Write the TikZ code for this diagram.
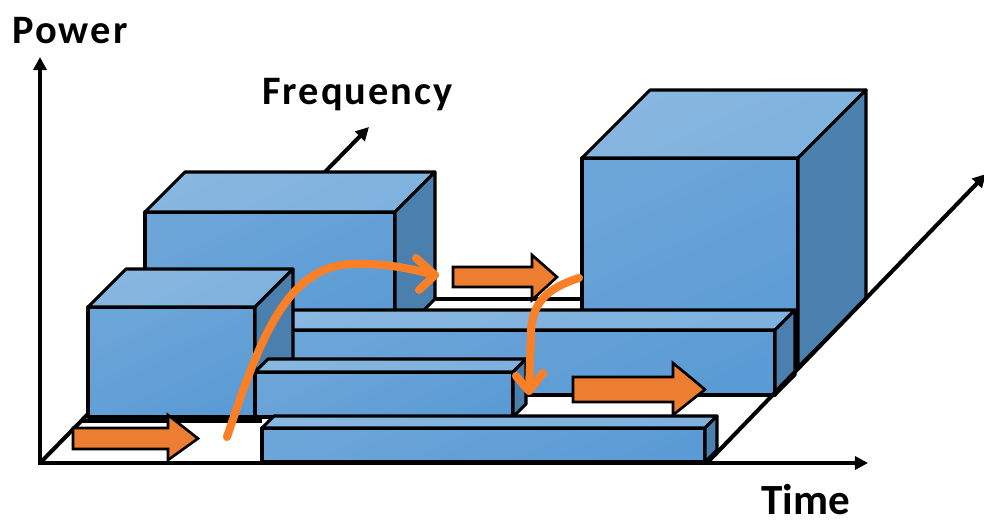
\documentclass[tikz,border=0pt]{standalone}
\usepackage{fontspec}
\setmainfont{Carlito}
\newfontfamily\axislabelfont[LetterSpace=5]{Carlito}
\usetikzlibrary{arrows.meta}

\definecolor{boxfront}{HTML}{5B9BD5}
\definecolor{boxfrontlight}{HTML}{6CA5D8}
\definecolor{boxtop}{HTML}{7EB1DE}
\definecolor{boxtoplight}{HTML}{88B7E0}
\definecolor{boxside}{HTML}{4B7FAE}
\definecolor{blockorange}{HTML}{ED7D31}
\definecolor{pathorange}{RGB}{250,128,40}

% cuboid in oblique view: x-left, x-right, y-top, y-bottom of the front face, depth
\newcommand\cuboid[5]{%
  \filldraw[facefront] (#1,#3) rectangle (#2,#4);
  \filldraw[facetop] (#1,#3) -- ({#1+#5},{#3-#5}) -- ({#2+#5},{#3-#5}) -- (#2,#3) -- cycle;
  \filldraw[faceside] (#2,#3) -- ({#2+#5},{#3-#5}) -- ({#2+#5},{#4-#5}) -- (#2,#4) -- cycle;}

% block arrow: body left, body top, body bottom, head base x, head top, head bottom, tip x
\newcommand\blockarrow[7]{%
  \filldraw[blockarr] (#1,#2) -- (#4,#2) -- (#4,#5) -- (#7,{(#2+#3)/2}) -- (#4,#6) -- (#4,#3) -- (#1,#3) -- cycle;}

\begin{document}
\begin{tikzpicture}[x=0.02cm, y=-0.02cm,
  outline/.style={draw=black, line width=1.8pt, line join=round},
  facefront/.style={outline, top color=boxfrontlight, bottom color=boxfront, shading angle=25},
  facetop/.style={outline, top color=boxtoplight, bottom color=boxtop, shading angle=25},
  faceside/.style={outline, fill=boxside},
  blockarr/.style={draw=black, line width=1.5pt, line join=miter, fill=blockorange},
  axis/.style={draw=black, line width=2.3pt, -{Triangle[length=7.5pt,width=7.5pt]}},
  flow/.style={draw=pathorange, line width=4.6pt, line cap=round, line join=round},
  lbl/.style={inner sep=0pt, anchor=base west}]

\useasboundingbox (0,0) rectangle (984,524);

\coordinate (origin) at (40,463);
\coordinate (powertip) at (40,57);
\coordinate (timetip) at (868,463);
\coordinate (freqtip) at (369,127);
\coordinate (edgestart) at (707,463);
\coordinate (edgetip) at (986,174);

% floor: front lane edge and back edge
\draw[outline] (81,421) -- (262,421);
\draw[outline] (200,299) -- (620,299);

% frequency axis, mostly hidden behind the blocks
\draw[axis] (origin) -- (freqtip);

% blocks, back to front
\cuboid{145}{395}{212}{339}{40}
\cuboid{582}{798}{158}{367}{68}
\cuboid{230}{775}{330}{395}{20}
\cuboid{88}{255}{307}{417}{38}
\cuboid{255}{513}{372}{417}{13}
\cuboid{262}{705}{428}{462}{12}

% block arrows on the free lanes
\blockarrow{73}{428}{449}{168}{415}{460}{198}
\blockarrow{453}{267}{287}{532}{255}{300}{557}
\blockarrow{573}{377}{402}{673}{363}{415}{705}

% hand-drawn flow paths
\draw[flow] (227,437) .. controls (258,345) and (285,266) .. (352,264)
            .. controls (390,263) and (415,270) .. (435,275);
\draw[flow] (416,258) -- (435,275) -- (419,290);
\draw[flow] (579,278) .. controls (548,288) and (531,302) .. (531,335) -- (529,391);
\draw[flow] (516,376) -- (529,391) -- (543,373);

% axes
\draw[axis] (origin) -- (powertip);
\draw[axis] ([xshift=-1pt]origin) -- (timetip);
\draw[axis] (edgestart) -- (edgetip);

% labels
\node[lbl, font=\axislabelfont\bfseries\fontsize{23}{27}\selectfont] (powerlabel) at (12,43) {Power};
\node[lbl, font=\axislabelfont\bfseries\fontsize{23}{27}\selectfont] (freqlabel) at (262,104) {Frequency};
\node[lbl, font=\bfseries\fontsize{24.5}{28}\selectfont] (timelabel) at (761,514) {Time};
\end{tikzpicture}
\end{document}
